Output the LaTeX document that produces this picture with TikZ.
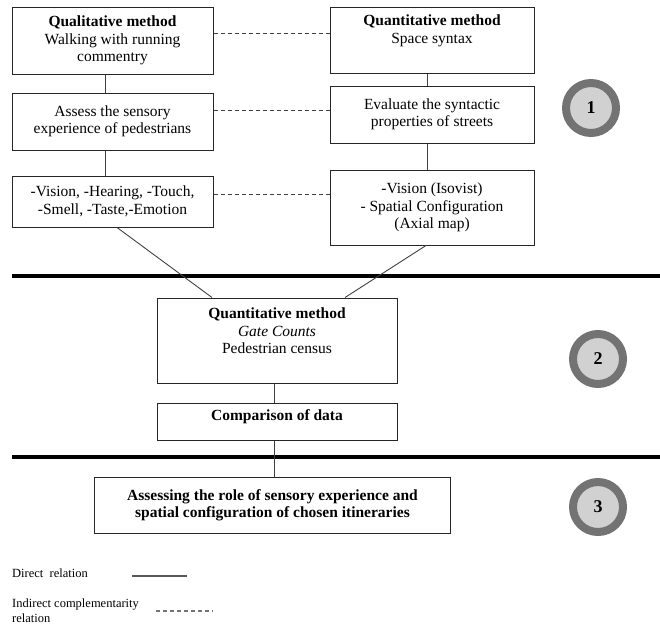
\documentclass[tikz,border=0pt]{standalone}
\usepackage{fontspec}
\setmainfont{Liberation Serif}
\usepackage{tikz}

\begin{document}
\begin{tikzpicture}[x=1pt,y=-1pt,
    box/.style={draw=black!85, line width=1pt, align=center, inner sep=2pt,
      font=\fontsize{15.5}{17.5}\selectfont},
    link/.style={draw=black!75, line width=0.9pt},
    dashlink/.style={draw=black!75, line width=0.9pt, dash pattern=on 4pt off 3pt},
    phaseline/.style={line width=4pt},
    phase/.style={circle, draw=black!55, fill=black!18, line width=8pt,
      minimum size=50pt, font=\fontsize{18}{18}\selectfont\bfseries},
    legend/.style={font=\fontsize{12.5}{15}\selectfont, inner sep=0pt}]
  \useasboundingbox (0,0) rectangle (660,630);

  % Phase 1
  \node[box, minimum width=201, minimum height=67] (qual) at (112.5,40.5)
    {\textbf{Qualitative method}\\Walking with running\\commentry};
  \node[box, minimum width=204, minimum height=66, text depth=22pt] (quant) at (432,40)
    {\textbf{Quantitative method}\\Space syntax};
  \node[box, minimum width=201, minimum height=57] (assess) at (112.5,121.5)
    {Assess the sensory\\experience of pedestrians};
  \node[box, minimum width=204, minimum height=57] (evaluate) at (432,114.5)
    {Evaluate the syntactic\\properties of streets};
  \node[box, minimum width=201, minimum height=51] (senses) at (112.5,201.5)
    {-Vision, -Hearing, -Touch,\\-Smell, -Taste,-Emotion};
  \node[box, minimum width=204, minimum height=75] (isovist) at (432,207.5)
    {-Vision (Isovist)\\- Spatial Configuration\\(Axial map)};
  \node[phase] (one) at (591,108) {1};

  \draw[link] ([xshift=-7pt]qual.south) -- ([xshift=-7pt]assess.north);
  \draw[link] ([xshift=-7pt]assess.south) -- ([xshift=-7pt]senses.north);
  \draw[link] ([xshift=-5pt]quant.south) -- ([xshift=-5pt]evaluate.north);
  \draw[link] ([xshift=-5pt]evaluate.south) -- ([xshift=-5pt]isovist.north);

  \coordinate (d1) at (0,33);
  \coordinate (d2) at (0,110);
  \coordinate (d3) at (0,194);
  \draw[dashlink] (qual.east |- d1) -- (quant.west |- d1);
  \draw[dashlink] (assess.east |- d2) -- (evaluate.west |- d2);
  \draw[dashlink] (senses.east |- d3) -- (isovist.west |- d3);

  % Separators
  \draw[phaseline] (12,276) -- (660,276);
  \draw[phaseline] (12,457) -- (660,457);

  % Phase 2
  \node[box, minimum width=240, minimum height=85, text depth=19pt] (census) at (277,340.5)
    {\textbf{Quantitative method}\\\textit{Gate Counts}\\Pedestrian census};
  \node[box, minimum width=240, minimum height=37, text depth=13pt] (compare) at (277,421.5)
    {\textbf{Comparison of data}};
  \node[phase] (two) at (598,359) {2};

  \draw[link] ([xshift=4.5pt]senses.south) -- ([xshift=-65pt]census.north);
  \draw[link] ([xshift=-6pt]isovist.south) -- ([xshift=68pt]census.north);
  \draw[link] ([xshift=-3pt]census.south) -- ([xshift=-3pt]compare.north);

  % Phase 3
  \node[box, minimum width=356, minimum height=56] (role) at (272.5,505)
    {\textbf{Assessing the role of sensory experience and}\\\textbf{spatial configuration of chosen itineraries}};
  \node[phase] (three) at (598,507) {3};

  \draw[link] ([xshift=-3pt]compare.south) -- ([xshift=1.5pt]role.north);

  % Legend
  \node[legend, anchor=west] (ldirect) at (12,573) {Direct\ \ relation};
  \coordinate (ls1) at (132,576);
  \coordinate (le1) at (187,576);
  \draw[draw=black!65, line width=1.3pt] (ls1) -- (le1);
  \node[legend, anchor=north west, align=left] (lindirect) at (12,599)
    {Indirect complementarity\\relation};
  \coordinate (ls2) at (156,611);
  \coordinate (le2) at (213,611);
  \draw[draw=black!55, line width=1.3pt, dash pattern=on 4pt off 3pt] (ls2) -- (le2);
\end{tikzpicture}
\end{document}
